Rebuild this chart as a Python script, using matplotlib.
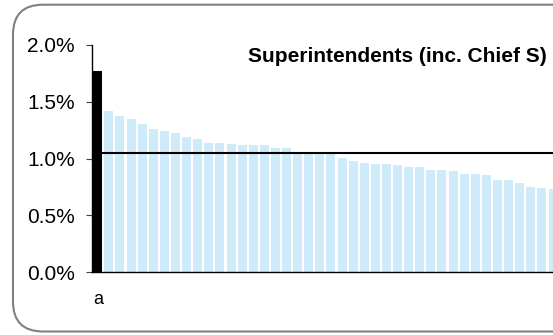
import matplotlib.pyplot as plt
import numpy as np
from matplotlib.patches import FancyBboxPatch

plt.rcParams["font.family"] = ["Liberation Sans", "DejaVu Sans"]

# share of officers per force, sorted; first force highlighted
title = "Superintendents (inc. Chief S)"
shares = [
    1.77, 1.418, 1.374, 1.348, 1.304, 1.260, 1.242, 1.225, 1.189, 1.172,
    1.137, 1.137, 1.128, 1.119, 1.119, 1.119, 1.093, 1.093, 1.055, 1.055,
    1.050, 1.050, 1.004, 0.978, 0.960, 0.952, 0.952, 0.943, 0.925, 0.925,
    0.899, 0.899, 0.890, 0.863, 0.863, 0.855, 0.811, 0.811, 0.784, 0.749,
    0.740, 0.731,
]
highlight = 0
average = 1.046
x_labels = ["a"] + [""] * (len(shares) - 1)
y_ticks = [0.0, 0.5, 1.0, 1.5, 2.0]

fig = plt.figure(figsize=(5.53, 3.35), dpi=100)

# rounded frame round the whole chart (runs off the right edge)
frame = FancyBboxPatch(
    (0.13, 0.035), 5.75, 3.268,
    boxstyle="round,pad=0,rounding_size=0.3",
    transform=fig.dpi_scale_trans,
    facecolor="none", edgecolor="#808080", linewidth=1.5,
    zorder=-1,
)
fig.patches.append(frame)

ax = fig.add_axes([92 / 553, 63 / 335, 1 - 92 / 553, 227 / 335])
ax.patch.set_alpha(0)

x = np.arange(len(shares))
colors = ["black" if i == highlight else "#cdebf8" for i in x]
ax.bar(x, shares, width=0.81, color=colors, zorder=2)
ax.axhline(average, color="black", linewidth=1.5, zorder=3)

ax.set_xlim(-0.52, 40.86)
ax.set_ylim(0, 2.0)
ax.set_yticks(y_ticks)
ax.set_yticklabels([f"{v:.1f}%" for v in y_ticks], fontsize=15)
ax.set_xticks(x)
ax.set_xticklabels(x_labels, fontsize=13)
ax.tick_params(axis="x", length=0, pad=14)
ax.tick_params(axis="y", length=4.3, width=0.8, color="#404040", pad=8)

for side in ("top", "right"):
    ax.spines[side].set_visible(False)
for side in ("left", "bottom"):
    ax.spines[side].set_linewidth(1.0)
    ax.spines[side].set_zorder(4)

fig.text(397 / 553, 1 - 56 / 335, title, fontsize=15, fontweight="bold",
         ha="center", va="center")

fig.savefig("out.png", dpi=100)
